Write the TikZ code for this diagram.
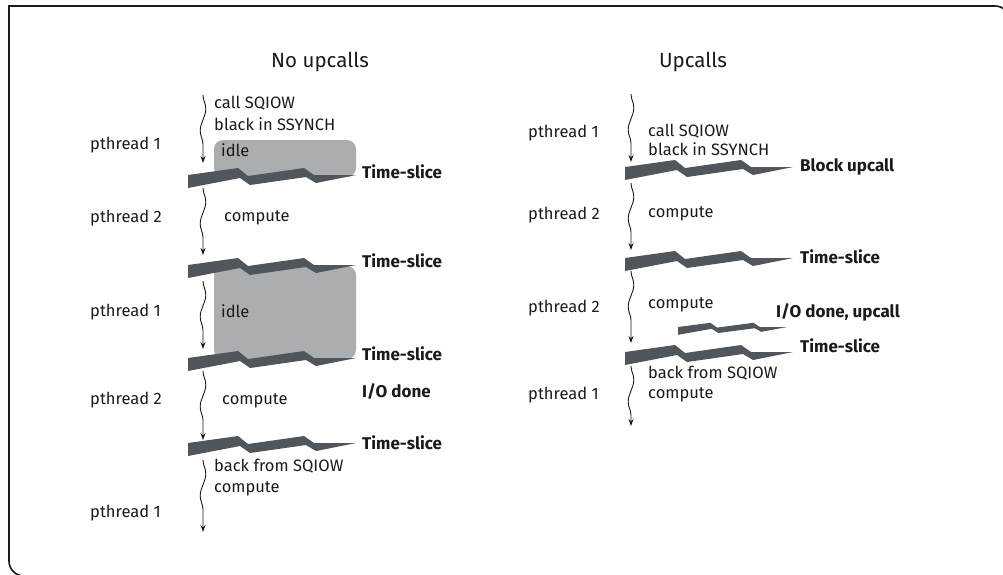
\documentclass[tikz,border=0pt]{standalone}
\usepackage{fontspec}
\setmainfont{Fira Sans}
\usetikzlibrary{arrows.meta,decorations.pathmorphing}
\definecolor{myslice}{RGB}{80,86,91}
\definecolor{myidle}{RGB}{171,174,177}
\definecolor{mytext}{RGB}{26,26,26}
\tikzset{
  pics/slice/.style={code={
    \fill[myslice] (0,0) -- (50,-7) -- (60,1) -- (116,-7) -- (126,0) -- (168,0)
      -- (128,8) -- (118,2) -- (62,10) -- (52,3) -- (0,13) -- cycle;
  }}
}
\begin{document}
\begin{tikzpicture}[x=1pt,y=-1pt,
lbl/.style={anchor=west,inner sep=0pt,text=mytext,
  font=\fontsize{16.5}{18}\selectfont,text height=12pt,text depth=3pt},
bold/.style={lbl,font=\fontsize{17}{19}\selectfont\bfseries},
title/.style={inner sep=0pt,text=mytext,font=\fontsize{20.5}{22}\selectfont},
thread/.style={draw=mytext,line width=0.9pt,decorate,
  decoration={snake,amplitude=2.8pt,segment length=44pt,post length=7pt},
  -{Stealth[length=7pt,width=5pt]}},
idlebox/.style={fill=myidle,rounded corners=9pt},
]
\clip (0,0) rectangle (1003,574);
\draw[mytext,line width=1.6pt,rounded corners=15pt] (60,576) -- (9,576) -- (9,300);
\draw[mytext,line width=1.6pt] (9,300) -- (9,6) -- (600,6);
\draw[mytext,line width=1.6pt,rounded corners=15pt] (600,6) -- (1010,6) -- (1010,60);

\node[title] (nup) at (320,62) {No upcalls};
\node[title] (up) at (693,62) {Upcalls};

% left side
\fill[idlebox] (214,140) rectangle (356,177);
\fill[idlebox] (214,266) rectangle (356,359);
\pic (lts1) at (188,175) {slice};
\pic (lts2) at (188,265) {slice};
\pic (lts3) at (188,358) {slice};
\pic (lts4) at (188,443) {slice};

\coordinate (la1) at (203,95);  \coordinate (lb1) at (203,163);
\coordinate (la2) at (203,188); \coordinate (lb2) at (203,255);
\coordinate (la3) at (203,281); \coordinate (lb3) at (203,349);
\coordinate (la4) at (203,371); \coordinate (lb4) at (203,440);
\coordinate (la5) at (203,460); \coordinate (lb5) at (203,532);
\foreach \i in {1,...,5}
  \draw[thread] (la\i) -- (lb\i);

\node[lbl] (lp1) at (90,145) {pthread 1};
\node[lbl] (lp2) at (90,218) {pthread 2};
\node[lbl] (lp3) at (90,312) {pthread 1};
\node[lbl] (lp4) at (90,400) {pthread 2};
\node[lbl] (lp5) at (90,513) {pthread 1};

\node[lbl] (lcall) at (214,104) {call SQIOW};
\node[lbl] (lblk) at (214,126) {black in SSYNCH};
\node[lbl] (lidle1) at (221,152) {idle};
\node[lbl] (lcmp1) at (224,217) {compute};
\node[lbl] (lidle2) at (221,313) {idle};
\node[lbl] (lcmp2) at (222,400) {compute};
\node[lbl] (lback) at (214,467) {back from SQIOW};
\node[lbl] (lcmp3) at (214,488) {compute};

\node[bold] (lt1) at (362,174) {Time-slice};
\node[bold] (lt2) at (362,263) {Time-slice};
\node[bold] (lt3) at (362,356) {Time-slice};
\node[bold] (lio) at (362,393) {I/O done};
\node[bold] (lt4) at (362,445) {Time-slice};

% right side
\pic (rts1) at (625,167) {slice};
\pic (rts2) at (625,258) {slice};
\pic[xscale=0.65,yscale=0.6] (rts3) at (678,327) {slice};
\pic (rts4) at (625,352) {slice};

\coordinate (ra1) at (631,94);  \coordinate (rb1) at (631,162);
\coordinate (ra2) at (631,183); \coordinate (rb2) at (631,250);
\coordinate (ra3) at (631,271); \coordinate (rb3) at (631,343);
\coordinate (ra4) at (631,366); \coordinate (rb4) at (631,426);
\foreach \i in {1,...,4}
  \draw[thread] (ra\i) -- (rb\i);

\node[lbl] (rp1) at (528,133) {pthread 1};
\node[lbl] (rp2) at (528,215) {pthread 2};
\node[lbl] (rp3) at (528,308) {pthread 2};
\node[lbl] (rp4) at (528,395) {pthread 1};

\node[lbl] (rcall) at (648,132) {call SQIOW};
\node[lbl] (rblk) at (648,151) {black in SSYNCH};
\node[lbl] (rcmp1) at (648,213) {compute};
\node[lbl] (rcmp2) at (648,304) {compute};
\node[lbl] (rback) at (648,374) {back from SQIOW};
\node[lbl] (rcmp3) at (648,394) {compute};

\node[bold] (rblock) at (800,167) {Block upcall};
\node[bold] (rt1) at (800,259) {Time-slice};
\node[bold] (rio) at (776,313) {I/O done, upcall};
\node[bold] (rt2) at (800,348) {Time-slice};
\end{tikzpicture}
\end{document}
